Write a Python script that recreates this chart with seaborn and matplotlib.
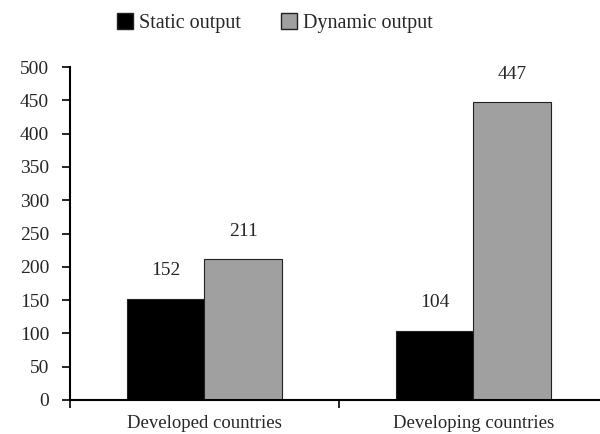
import numpy as np
import pandas as pd
import seaborn as sns
import matplotlib.pyplot as plt
from matplotlib.patches import Patch

# ---------------- Data ----------------
categories = ["Developed countries", "Developing countries"]
series = ["Static output", "Dynamic output"]
static_vals = [152, 104]
dynamic_vals = [211, 447]
colors = ["#000000", "#a0a0a0"]

df = pd.DataFrame({
    "category": categories * 2,
    "series": [series[0]] * 2 + [series[1]] * 2,
    "value": static_vals + dynamic_vals,
})

# ---------------- Plot ----------------
sns.set_style("white")
plt.rcParams['font.family'] = ['Liberation Serif', 'DejaVu Serif']

fig = plt.figure(figsize=(6, 4.34), dpi=100)
ax = fig.add_axes([70 / 600, 34 / 434, 538 / 600, 333 / 434])

sns.barplot(data=df, x="category", y="value", hue="series", palette=colors,
            width=0.577, edgecolor="#222222", linewidth=0.8, ax=ax, legend=False)

for cont in ax.containers:
    for bar in cont:
        h = bar.get_height()
        ax.annotate(f"{h:.0f}", (bar.get_x() + bar.get_width() / 2, h),
                    xytext=(0, 14), textcoords="offset points",
                    ha="center", va="bottom", fontsize=14)

ax.set_xlim(-0.5, 1.5)
ax.set_ylim(0, 500)
ax.set_yticks(np.arange(0, 501, 50))
ax.set_xlabel("")
ax.set_ylabel("")
ax.set_xticks([-0.5, 0.5, 1.5], minor=True)
ax.tick_params(axis="x", which="major", bottom=False, length=0, pad=11, labelsize=13.5)
ax.tick_params(axis="x", which="minor", bottom=True, length=6, width=1.2, direction="out", color="black")
ax.tick_params(axis="y", left=True, length=6, width=1.2, direction="out", color="black", labelsize=14, pad=9)
for s in ["top", "right"]:
    ax.spines[s].set_visible(False)
for s in ["left", "bottom"]:
    ax.spines[s].set_color("black")
    ax.spines[s].set_linewidth(1.5)

handles = [Patch(facecolor=c, edgecolor="#222222", label=l) for c, l in zip(colors, series)]
fig.legend(handles=handles, loc="center", bbox_to_anchor=(0.458, 0.947), ncol=2,
           frameon=False, fontsize=14.5, handlelength=0.8, handleheight=0.8,
           handletextpad=0.3, columnspacing=2.0)

fig.savefig("out.png", dpi=100)
